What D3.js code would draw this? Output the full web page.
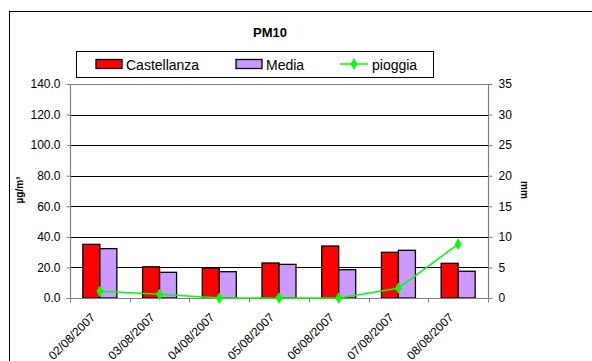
<!DOCTYPE html>
<html>
<head>
<meta charset="utf-8">
<script src="https://cdn.jsdelivr.net/npm/d3@7"></script>
<style>
  html, body { margin: 0; padding: 0; background: #fff; }
  svg { display: block; font-family: "Liberation Sans", Arial, sans-serif; }
</style>
</head>
<body>
<svg id="chart" width="592" height="361"></svg>
<script>
// Daily PM10 concentrations and rainfall
const dates = ["02/08/2007", "03/08/2007", "04/08/2007", "05/08/2007", "06/08/2007", "07/08/2007", "08/08/2007"];
const castellanza = [35.1, 20.4, 19.6, 22.9, 34.0, 29.9, 22.7];
const media = [32.3, 16.8, 17.2, 22.0, 18.5, 31.2, 17.5];
const pioggia = [1.1, 0.6, 0, 0, 0, 1.6, 8.8];
const leftTicks = [0, 20, 40, 60, 80, 100, 120, 140];
const rightTicks = [0, 5, 10, 15, 20, 25, 30, 35];

const svg = d3.select("#chart");
const plot = { left: 70, right: 488, top: 84, bottom: 298 };

// Outer chart frame
svg.append("rect")
  .attr("x", 9.5).attr("y", 11.5)
  .attr("width", 700).attr("height", 400)
  .attr("fill", "#fff").attr("stroke", "#000").attr("stroke-width", 1);

const x = d3.scaleBand().domain(dates).range([plot.left, plot.right]);
const yL = d3.scaleLinear().domain([0, 140]).range([plot.bottom, plot.top]);
const yR = d3.scaleLinear().domain([0, 35]).range([plot.bottom, plot.top]);

// Horizontal gridlines
svg.append("g").selectAll("line")
  .data(leftTicks.filter(d => d > 0))
  .join("line")
  .attr("x1", plot.left).attr("x2", plot.right)
  .attr("y1", d => Math.round(yL(d)) + 0.5).attr("y2", d => Math.round(yL(d)) + 0.5)
  .attr("stroke", d => d === 140 ? "#808080" : "#000").attr("stroke-width", 1);

// Bars
const barW = 17;
const offset = (x.bandwidth() - 2 * barW) / 2;
const bars = svg.append("g");
bars.selectAll("rect.c").data(dates).join("rect").attr("class", "c")
  .attr("x", (d) => x(d) + offset)
  .attr("y", (d, i) => yL(castellanza[i]))
  .attr("width", barW)
  .attr("height", (d, i) => yL(0) - yL(castellanza[i]))
  .attr("fill", "#ff0000").attr("stroke", "#000").attr("stroke-width", 1.3);
bars.selectAll("rect.m").data(dates).join("rect").attr("class", "m")
  .attr("x", (d) => x(d) + offset + barW)
  .attr("y", (d, i) => yL(media[i]))
  .attr("width", barW)
  .attr("height", (d, i) => yL(0) - yL(media[i]))
  .attr("fill", "#cc99ff").attr("stroke", "#000").attr("stroke-width", 1.3);

// Axes
const axisColor = "#808080";
const leftAxis = svg.append("g")
  .attr("transform", `translate(${plot.left + 0.5},0)`)
  .call(d3.axisLeft(yL).tickValues(leftTicks).tickFormat(d3.format(".1f")).tickSize(4).tickPadding(6));
const rightAxis = svg.append("g")
  .attr("transform", `translate(${plot.right + 0.5},0)`)
  .call(d3.axisRight(yR).tickValues(rightTicks).tickFormat(d3.format("d")).tickSize(4).tickPadding(6));
const xAxisG = svg.append("g")
  .attr("transform", `translate(0,${plot.bottom + 0.5})`)
  .call(d3.axisBottom(x).tickSize(0).tickFormat(""));
// Category separator ticks on the x axis
xAxisG.selectAll("line.sep")
  .data(d3.range(dates.length + 1))
  .join("line").attr("class", "sep")
  .attr("x1", i => Math.round(plot.left + i * x.step()) + 0.5)
  .attr("x2", i => Math.round(plot.left + i * x.step()) + 0.5)
  .attr("y1", 0).attr("y2", 4)
  .attr("stroke", axisColor);

[leftAxis, rightAxis, xAxisG].forEach(g => {
  g.select(".domain").attr("stroke", axisColor).attr("stroke-width", 1.2);
  g.selectAll(".tick line").attr("stroke", axisColor);
  g.selectAll("text").attr("font-size", 12).attr("fill", "#000")
    .attr("font-family", "Liberation Sans, Arial, sans-serif");
});
leftAxis.select(".domain").attr("d", `M0,${plot.top}V${plot.bottom}`);
rightAxis.select(".domain").attr("d", `M0,${plot.top}V${plot.bottom}`);
xAxisG.select(".domain").attr("d", `M${plot.left},0H${plot.right}`);

// Rotated date labels
svg.append("g").selectAll("text")
  .data(dates)
  .join("text")
  .attr("transform", d => `translate(${x(d) + x.bandwidth() / 2 - 4},${plot.bottom + 20}) rotate(-45)`)
  .attr("text-anchor", "end")
  .attr("font-size", 12)
  .text(d => d);

// Rainfall line
const line = d3.line()
  .x((d, i) => x(dates[i]) + x.bandwidth() / 2)
  .y(d => yR(d));
svg.append("path")
  .datum(pioggia)
  .attr("d", line)
  .attr("fill", "none").attr("stroke", "#00ff00").attr("stroke-width", 1.5);
const diamond = d3.symbol().type(d3.symbolDiamond).size(40);
svg.append("g").selectAll("path")
  .data(pioggia)
  .join("path")
  .attr("transform", (d, i) => `translate(${x(dates[i]) + x.bandwidth() / 2},${yR(d)})`)
  .attr("d", diamond)
  .attr("fill", "#00ff00");

// Title
svg.append("text")
  .attr("x", 270).attr("y", 37)
  .attr("text-anchor", "middle")
  .attr("font-size", 13).attr("font-weight", "bold")
  .text("PM10");

// Axis titles
svg.append("text")
  .attr("transform", `translate(23,190) rotate(-90)`)
  .attr("text-anchor", "middle")
  .attr("font-size", 10).attr("font-weight", "bold")
  .text("µg/m³");
svg.append("text")
  .attr("transform", `translate(521,190) rotate(90)`)
  .attr("text-anchor", "middle")
  .attr("font-size", 10).attr("font-weight", "bold")
  .text("mm");

// Legend
const legend = svg.append("g");
legend.append("rect")
  .attr("x", 76.5).attr("y", 51.5).attr("width", 357).attr("height", 26)
  .attr("fill", "#fff").attr("stroke", "#000").attr("stroke-width", 1);
legend.append("rect")
  .attr("x", 96).attr("y", 59.5).attr("width", 26).attr("height", 9)
  .attr("fill", "#ff0000").attr("stroke", "#000").attr("stroke-width", 1.3);
legend.append("text").attr("x", 126).attr("y", 69.5).attr("font-size", 14).text("Castellanza");
legend.append("rect")
  .attr("x", 236).attr("y", 59.5).attr("width", 26).attr("height", 9)
  .attr("fill", "#cc99ff").attr("stroke", "#000").attr("stroke-width", 1.3);
legend.append("text").attr("x", 266).attr("y", 69.5).attr("font-size", 14).text("Media");
legend.append("line")
  .attr("x1", 340).attr("x2", 368).attr("y1", 64).attr("y2", 64)
  .attr("stroke", "#00ff00").attr("stroke-width", 1.5);
legend.append("path")
  .attr("transform", "translate(354,64)")
  .attr("d", diamond).attr("fill", "#00ff00");
legend.append("text").attr("x", 372).attr("y", 69.5).attr("font-size", 14).text("pioggia");
</script>
</body>
</html>
